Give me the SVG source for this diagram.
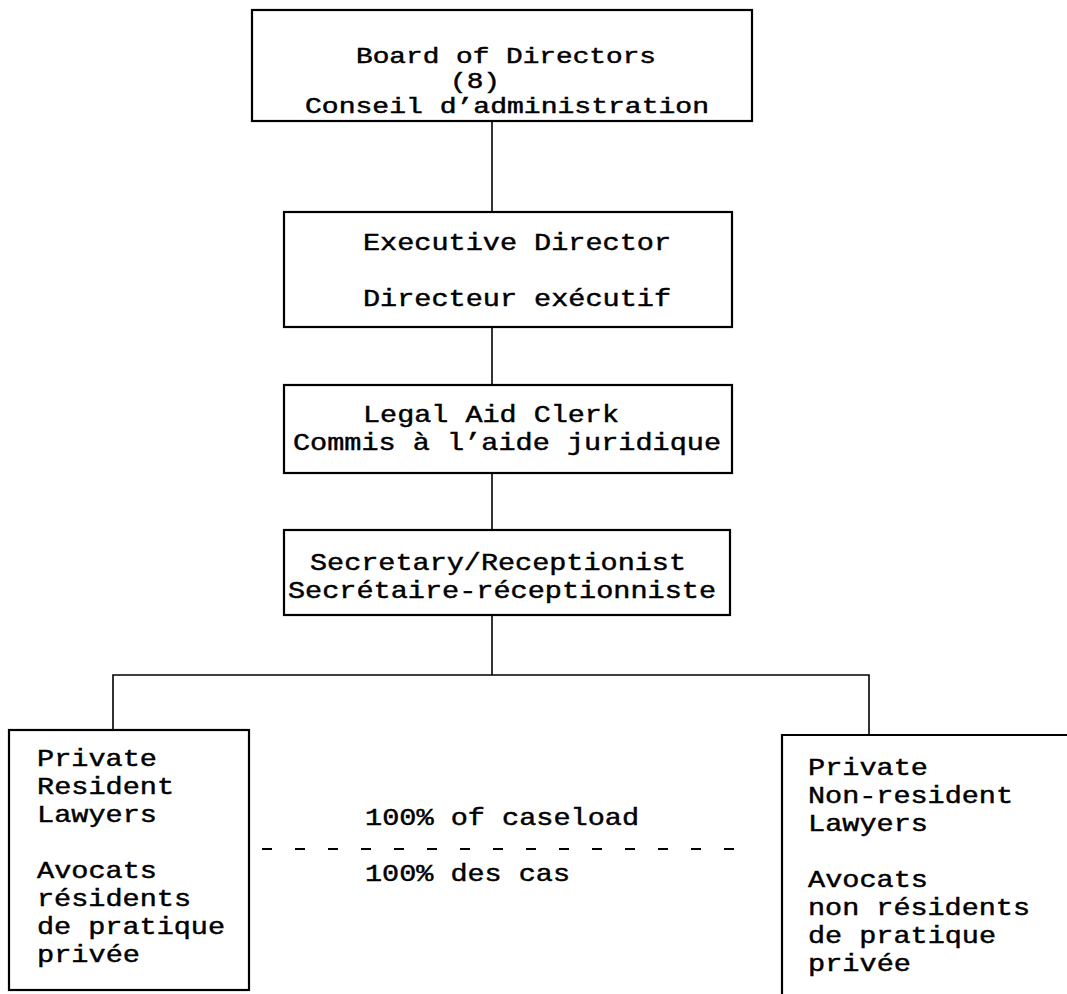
<svg xmlns="http://www.w3.org/2000/svg" width="1067" height="994" viewBox="0 0 1067 994">
<style>
  .box { fill: none; stroke: #000; stroke-width: 2.2; }
  .conn { fill: none; stroke: #000; stroke-width: 1.6; }
  .dash { fill: none; stroke: #000; stroke-width: 2; stroke-dasharray: 10 23; }
  text { font-family: "Liberation Mono", "Courier New", monospace; font-size: 24px; fill: #000; stroke: #000; stroke-width: 0.45; }
  .sm { font-size: 21.5px; }
</style>
<rect width="1067" height="994" fill="#fff"/>
<g id="connectors">
  <line class="conn" x1="492" y1="121" x2="492" y2="212"/>
  <line class="conn" x1="492" y1="327" x2="492" y2="385"/>
  <line class="conn" x1="492" y1="473" x2="492" y2="530"/>
  <line class="conn" x1="492" y1="615" x2="492" y2="675"/>
  <polyline class="conn" points="113,730 113,675 869,675 869,735"/>
  <line class="dash" x1="262" y1="849" x2="756" y2="849"/>
</g>
<g id="board">
  <rect class="box" x="252" y="10" width="500" height="111"/>
  <text class="sm" x="356" y="63" textLength="300" lengthAdjust="spacingAndGlyphs">Board of Directors</text>
  <text class="sm" x="450" y="88" textLength="50" lengthAdjust="spacingAndGlyphs">(8)</text>
  <text class="sm" x="305" y="113" textLength="404" lengthAdjust="spacingAndGlyphs">Conseil d’administration</text>
</g>
<g id="executive">
  <rect class="box" x="284" y="212" width="448" height="115"/>
  <text x="363" y="250" textLength="308" lengthAdjust="spacingAndGlyphs">Executive Director</text>
  <text x="363" y="306" textLength="308" lengthAdjust="spacingAndGlyphs">Directeur exécutif</text>
</g>
<g id="clerk">
  <rect class="box" x="284" y="385" width="448" height="88"/>
  <text x="363" y="422" textLength="256" lengthAdjust="spacingAndGlyphs">Legal Aid Clerk</text>
  <text x="293" y="450" textLength="428" lengthAdjust="spacingAndGlyphs">Commis à l’aide juridique</text>
</g>
<g id="secretary">
  <rect class="box" x="284" y="530" width="446" height="85"/>
  <text x="310" y="570" textLength="376" lengthAdjust="spacingAndGlyphs">Secretary/Receptionist</text>
  <text x="288" y="598" textLength="428" lengthAdjust="spacingAndGlyphs">Secrétaire-réceptionniste</text>
</g>
<g id="resident">
  <rect class="box" x="9" y="730" width="240" height="260"/>
  <text x="37" y="766" textLength="120" lengthAdjust="spacingAndGlyphs">Private</text>
  <text x="37" y="794" textLength="137" lengthAdjust="spacingAndGlyphs">Resident</text>
  <text x="37" y="822" textLength="120" lengthAdjust="spacingAndGlyphs">Lawyers</text>
  <text x="37" y="878" textLength="120" lengthAdjust="spacingAndGlyphs">Avocats</text>
  <text x="37" y="906" textLength="154" lengthAdjust="spacingAndGlyphs">résidents</text>
  <text x="37" y="934" textLength="188" lengthAdjust="spacingAndGlyphs">de pratique</text>
  <text x="37" y="962" textLength="103" lengthAdjust="spacingAndGlyphs">privée</text>
</g>
<g id="nonresident">
  <path class="box" d="M1067,735 H782 V994"/>
  <text x="808" y="775" textLength="120" lengthAdjust="spacingAndGlyphs">Private</text>
  <text x="808" y="803" textLength="205" lengthAdjust="spacingAndGlyphs">Non-resident</text>
  <text x="808" y="831" textLength="120" lengthAdjust="spacingAndGlyphs">Lawyers</text>
  <text x="808" y="887" textLength="120" lengthAdjust="spacingAndGlyphs">Avocats</text>
  <text x="808" y="915" textLength="222" lengthAdjust="spacingAndGlyphs">non résidents</text>
  <text x="808" y="943" textLength="188" lengthAdjust="spacingAndGlyphs">de pratique</text>
  <text x="808" y="971" textLength="103" lengthAdjust="spacingAndGlyphs">privée</text>
</g>
<g id="caseload">
  <text x="365" y="825" textLength="274" lengthAdjust="spacingAndGlyphs">100% of caseload</text>
  <text x="365" y="881" textLength="205" lengthAdjust="spacingAndGlyphs">100% des cas</text>
</g>
</svg>
